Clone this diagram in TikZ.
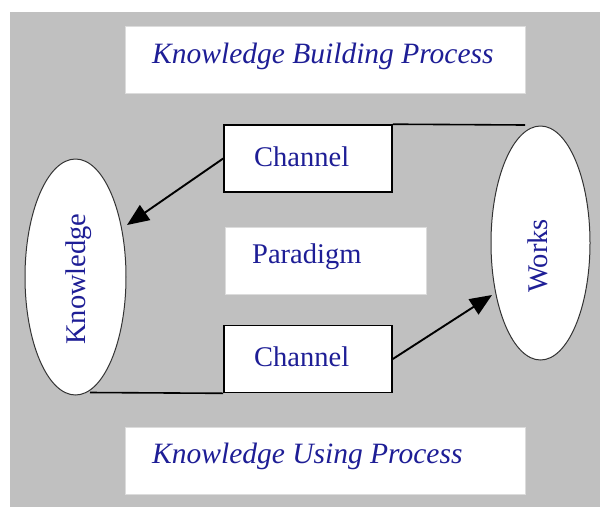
\documentclass[tikz,border=0pt]{standalone}
\usepackage{fontspec}
\setmainfont{Liberation Serif}
\usetikzlibrary{shapes.geometric,arrows.meta}
\definecolor{bggray}{RGB}{192,192,192}
\definecolor{txtblue}{RGB}{30,30,150}
\definecolor{softedge}{RGB}{220,220,220}
\tikzset{
  plainbox/.style={draw=softedge, line width=0.8pt, fill=white, inner sep=0pt},
  chanbox/.style={draw=black, line width=1.6pt, fill=white, inner sep=0pt, minimum width=168pt, minimum height=67pt},
  oval/.style={ellipse, draw=black!80, line width=1pt, fill=white, inner sep=0pt},
  lbl/.style={text=txtblue, inner sep=0pt, font=\fontsize{28.5}{34}\selectfont},
  ilbl/.style={lbl, font=\fontsize{29.5}{35}\selectfont\itshape},
  conn/.style={draw=black, line width=1.9pt},
  arr/.style={conn, -{Triangle[length=22pt,width=18pt]}}
}
\begin{document}
\begin{tikzpicture}[x=1pt,y=-1pt]
\useasboundingbox (0,0) rectangle (600,507);
\fill[white] (0,0) rectangle (600,507);
\fill[bggray] (10,12) rectangle (600,507);
% top and bottom process boxes
\node[plainbox, minimum width=400pt, minimum height=67pt] (topbox) at (325,59.5) {};
\node[ilbl, anchor=base west] (toptext) at (152,63) {Knowledge Building Process};
\node[plainbox, minimum width=400pt, minimum height=67pt] (botbox) at (325,460.5) {};
\node[ilbl, anchor=base west] (bottext) at (152,463) {Knowledge Using Process};
% paradigm
\node[plainbox, minimum width=201pt, minimum height=67pt] (parbox) at (325.5,260.5) {};
\node[lbl, anchor=base west] (partext) at (252,263) {Paradigm};
% channels
\node[chanbox] (chtop) at (308,158.5) {};
\node[lbl, anchor=base west] (chtoptext) at (254,166) {Channel};
\node[chanbox] (chbot) at (308,359) {};
\node[lbl, anchor=base west] (chbottext) at (254,366) {Channel};
% ellipses
\node[oval, minimum width=101pt, minimum height=236pt] (know) at (75.5,277) {};
\node[lbl, rotate=90, anchor=base west] (knowtext) at (85,345) {Knowledge};
\node[oval, minimum width=99pt, minimum height=234pt] (works) at (540.5,243) {};
\node[lbl, rotate=90, anchor=base west] (workstext) at (547,293) {Works};
% connectors
\coordinate (topend) at (525,125);
\coordinate (botend) at (90,392.5);
\draw[conn, line width=1.6pt] (chtop.north east) -- (topend);
\draw[conn, line width=1.6pt] (chbot.south west) -- (botend);
\draw[arr] (chtop.west) -- (127,225);
\draw[arr] (chbot.east) -- (492,295);
\end{tikzpicture}
\end{document}
